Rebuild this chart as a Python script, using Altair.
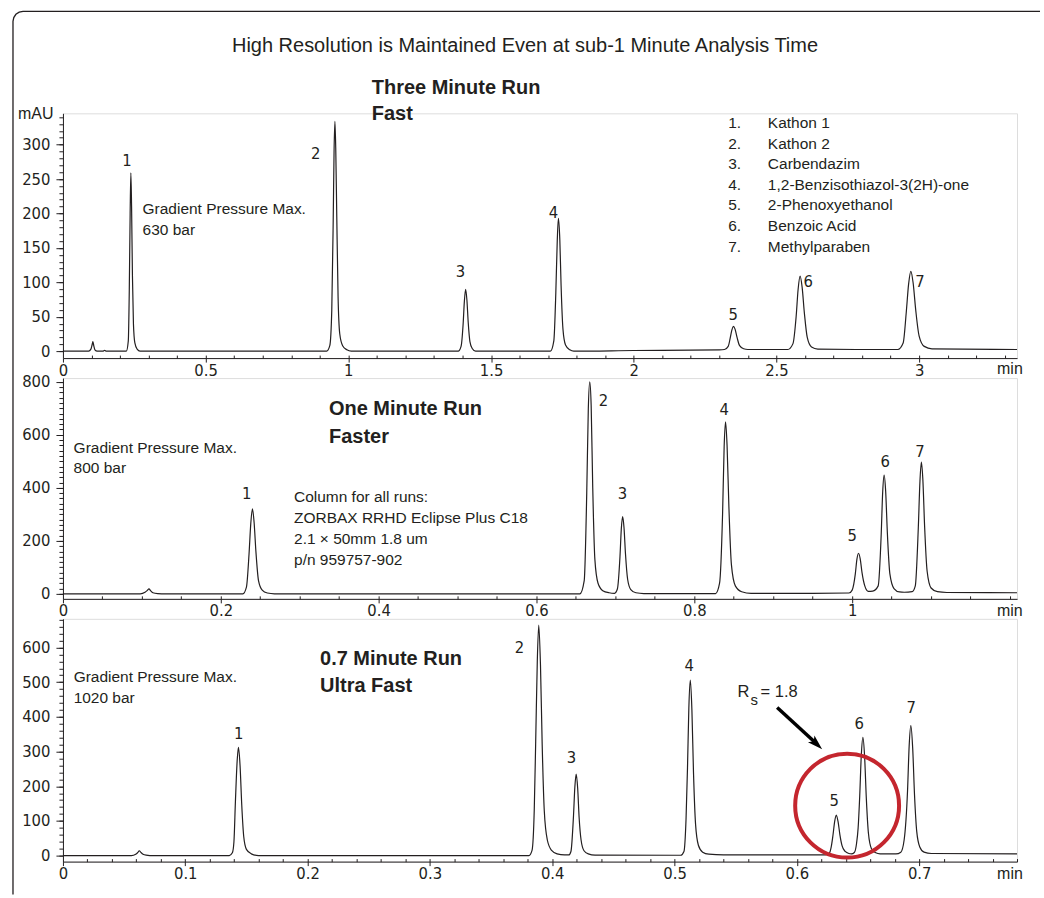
import altair as alt
import pandas as pd

# ---------------- data ----------------
# Three Minute Run trace: time (min) / absorbance (mAU)
run3_time = [0.0, 0.09, 0.098, 0.102, 0.105, 0.108, 0.112, 0.12, 0.14, 0.146, 0.152,
             0.222, 0.229, 0.2325, 0.2355, 0.238, 0.2405, 0.2435, 0.247, 0.252, 0.26, 0.27,
             0.924, 0.935, 0.942, 0.947, 0.950, 0.953, 0.956, 0.9595, 0.964, 0.970, 0.98, 0.995, 1.01,
             1.385, 1.395, 1.402, 1.4065, 1.411, 1.4155, 1.42, 1.426, 1.434, 1.446,
             1.708, 1.72, 1.727, 1.732, 1.736, 1.741, 1.7455, 1.752, 1.761, 1.776, 1.79,
             2.0, 2.30, 2.318, 2.331, 2.338, 2.344, 2.349, 2.355, 2.362, 2.371, 2.385, 2.40,
             2.54, 2.558, 2.569, 2.576, 2.583, 2.590, 2.598, 2.608, 2.623, 2.645,
             2.78, 2.925, 2.944, 2.955, 2.963, 2.971, 2.979, 2.988, 3.0, 3.018, 3.045, 3.343]
run3_mau = [0, 0, 3, 9, 14, 8, 2, 0, 0, 1.2, 0,
            0, 15, 90, 200, 259, 210, 110, 40, 12, 3, 0,
            0, 8, 60, 190, 290, 334, 292, 195, 80, 25, 8, 2, 0,
            0, 7, 38, 72, 90, 74, 42, 14, 4, 0,
            0, 15, 85, 160, 193, 162, 95, 32, 9, 2, 0,
            1, 2, 2.5, 7, 19, 31, 36, 32, 20, 8, 3.5, 2.5,
            2.5, 11, 50, 90, 109, 93, 55, 20, 6, 3,
            2.5, 2.5, 12, 57, 97, 116, 99, 60, 22, 7, 3.5, 2.5]

# One Minute Run trace
run1_time = [0.0, 0.098, 0.104, 0.107, 0.109, 0.111, 0.114, 0.120, 0.130,
             0.228, 0.2325, 0.2358, 0.238, 0.2401, 0.2422, 0.2445, 0.2478, 0.2525, 0.259, 0.268,
             0.655, 0.6605, 0.6637, 0.6657, 0.6675, 0.6693, 0.6713, 0.674, 0.678, 0.684, 0.692, 0.699,
             0.7025, 0.7058, 0.7075, 0.7092, 0.7109, 0.7128, 0.7155, 0.7195, 0.726, 0.736,
             0.827, 0.832, 0.8358, 0.8378, 0.8396, 0.8415, 0.8438, 0.847, 0.852, 0.860, 0.872,
             0.950, 0.996, 1.000, 1.004, 1.006, 1.008, 1.0102, 1.0125, 1.016, 1.0205,
             1.026, 1.033, 1.0368, 1.0387, 1.0405, 1.0424, 1.0446, 1.0478, 1.053, 1.060, 1.066,
             1.076, 1.080, 1.0838, 1.0859, 1.0877, 1.0896, 1.0918, 1.095, 1.100, 1.108, 1.120, 1.2089]
run1_mau = [0, 0, 6, 13, 19, 12, 4, 1, 0,
            0, 25, 150, 265, 321, 270, 160, 50, 14, 3, 0,
            0, 50, 380, 700, 800, 710, 400, 130, 40, 12, 4, 2,
            18, 140, 245, 291, 250, 150, 55, 16, 4, 1,
            1, 40, 300, 555, 649, 560, 330, 110, 30, 8, 2,
            2, 3, 14, 75, 130, 153, 132, 80, 30, 9,
            10, 30, 224, 385, 448, 390, 230, 75, 20, 7, 6,
            8, 30, 248, 425, 497, 430, 255, 85, 22, 8, 5, 4]

# 0.7 Minute Run trace
run07_time = [0.0, 0.056, 0.0595, 0.0612, 0.0624, 0.0638, 0.0655, 0.068, 0.074,
              0.136, 0.1385, 0.1398, 0.141, 0.1423, 0.1435, 0.1448, 0.1462, 0.1478, 0.150, 0.154, 0.160,
              0.381, 0.3835, 0.3853, 0.3865, 0.3878, 0.389, 0.3904, 0.3918, 0.3935, 0.396, 0.3995, 0.404, 0.410,
              0.4135, 0.4153, 0.4174, 0.4185, 0.4196, 0.4208, 0.422, 0.4236, 0.426, 0.4295, 0.435,
              0.505, 0.5077, 0.5094, 0.5106, 0.5117, 0.5129, 0.5142, 0.5155, 0.5172, 0.5195, 0.523, 0.528, 0.540, 0.600,
              0.6235, 0.6267, 0.6281, 0.6295, 0.6309, 0.6322, 0.6337, 0.6352, 0.637, 0.6395, 0.6425, 0.6446,
              0.647, 0.6488, 0.6501, 0.6514, 0.6527, 0.654, 0.6554, 0.6568, 0.6585, 0.661, 0.6645, 0.668,
              0.681, 0.685, 0.6877, 0.6905, 0.6918, 0.6932, 0.6947, 0.6962, 0.698, 0.7005, 0.704, 0.710, 0.780]
run07_mau = [0, 0, 4, 9, 14, 9, 4, 1.5, 0,
             0, 8, 40, 155, 265, 312, 260, 145, 55, 18, 5, 0,
             0, 15, 130, 330, 560, 665, 550, 320, 130, 45, 15, 5, 2,
             2, 12, 115, 197, 235, 195, 110, 45, 14, 5, 1.5,
             1, 12, 105, 253, 425, 506, 420, 240, 90, 30, 10, 4, 2, 2,
             2, 8, 25, 58, 98, 117, 98, 60, 28, 12, 6, 5,
             9, 35, 80, 172, 290, 341, 285, 165, 65, 20, 8, 5,
             5, 10, 45, 188, 315, 375, 310, 175, 70, 25, 10, 6, 5]

peak_numbers = ["1", "2", "3", "4", "5", "6", "7"]
run3_label_time = [0.224, 0.886, 1.393, 1.719, 2.349, 2.611, 3.003]
run3_label_mau = [276, 286, 115, 200, 52, 100, 100]
run1_label_time = [0.2329, 0.6848, 0.7089, 0.838, 1.0, 1.0418, 1.086]
run1_label_mau = [377, 727, 377, 693, 218, 497, 535]
run07_label_time = [0.1438, 0.3733, 0.4157, 0.5121, 0.6306, 0.651, 0.6934]
run07_label_mau = [351, 599, 282, 547, 156, 380, 426]

compound_numbers = ["1.", "2.", "3.", "4.", "5.", "6.", "7."]
compound_names = ["Kathon 1", "Kathon 2", "Carbendazim", "1,2-Benzisothiazol-3(2H)-one",
                  "2-Phenoxyethanol", "Benzoic Acid", "Methylparaben"]
compound_mau = [331, 301, 272, 242, 212, 182, 152]

run3_x_ticks = [0, 0.5, 1, 1.5, 2, 2.5, 3]
run1_x_ticks = [0, 0.2, 0.4, 0.6, 0.8, 1]
run07_x_ticks = [0, 0.1, 0.2, 0.3, 0.4, 0.5, 0.6, 0.7]
run3_y_ticks = [0, 50, 100, 150, 200, 250, 300]
run1_y_ticks = [0, 200, 400, 600, 800]
run07_y_ticks = [0, 100, 200, 300, 400, 500, 600]

run3_x_minor = [round(0.1 * i, 2) for i in range(1, 34)]
run1_x_minor = [round(0.05 * i, 3) for i in range(1, 25)]
run07_x_minor = [round(0.02 * i, 3) for i in range(1, 40)]
run3_y_minor = list(range(0, 341, 10))
run1_y_minor = list(range(0, 811, 20))
run07_y_minor = list(range(0, 681, 20))

# ---------------- styling ----------------
FONT = "Liberation Sans, Arial, sans-serif"
NARROW = "Liberation Sans Narrow, DejaVu Sans Condensed, sans-serif"
INK = "#231f20"
RED = "#c4262e"
W = 955


def scales(xmax, ydom):
    return (alt.Scale(domain=[0, xmax], nice=False, zero=False),
            alt.Scale(domain=ydom, nice=False, zero=False))


def texts(df, xs, ys, **kw):
    return alt.Chart(df).mark_text(color=INK, **kw).encode(
        x=alt.X("t:Q", scale=xs, axis=None),
        y=alt.Y("v:Q", scale=ys, axis=None),
        text="s:N",
    )


def panel(time, mau, xmax, ydom, height, xmaj, xmin, ymaj, ymin,
          lab_t, lab_v, notes, bold, extra=()):
    xs, ys = scales(xmax, ydom)
    trace = pd.DataFrame({"t": time, "v": mau})
    line = alt.Chart(trace).mark_line(color=INK, strokeWidth=1.2, interpolate="monotone").encode(
        x=alt.X("t:Q", scale=xs, axis=alt.Axis(
            orient="bottom", values=xmaj, format="~g", title=None, grid=False,
            tickSize=4, labelPadding=0, labelFlush=False, labelOverlap=False,
            labelFont=NARROW, labelFontSize=16.5, labelColor=INK,
            domainColor=INK, tickColor=INK)),
        y=alt.Y("v:Q", scale=ys, axis=alt.Axis(
            orient="left", values=ymaj, title=None, grid=False,
            tickSize=7, labelPadding=6, labelOverlap=False,
            labelFont=NARROW, labelFontSize=16.5, labelColor=INK,
            domainColor=INK, tickColor=INK)),
    )
    minor = alt.Chart(trace).mark_line(opacity=0).encode(
        x=alt.X("t:Q", scale=xs, axis=alt.Axis(
            orient="bottom", values=xmin, labels=False, domain=False, title=None,
            grid=False, tickSize=3, offset=-3, tickColor=INK)),
        y=alt.Y("v:Q", scale=ys, axis=alt.Axis(
            orient="left", values=ymin, labels=False, domain=False, title=None,
            grid=False, tickSize=4, tickColor=INK)),
    )
    peaks = texts(pd.DataFrame({"t": lab_t, "v": lab_v, "s": peak_numbers}), xs, ys,
                  font=NARROW, fontSize=16.5)
    note_layer = texts(pd.DataFrame(notes, columns=["s", "t", "v"]), xs, ys,
                       font=FONT, fontSize=15.5, align="left")
    bold_layer = texts(pd.DataFrame(bold, columns=["s", "t", "v"]), xs, ys,
                       font=FONT, fontSize=20, fontWeight="bold", align="left")
    layers = [line, minor, peaks, note_layer, bold_layer] + [f(xs, ys) for f in extra]
    return alt.layer(*layers).resolve_axis(x="independent", y="independent").properties(
        width=W, height=height)


# extras for the top panel: canvas extent, frame, title, legend list
def canvas_rect(xs, ys):
    return alt.Chart(pd.DataFrame({"k": [0]})).mark_rect(opacity=0).encode(
        x=alt.value(-62), x2=alt.value(1040 - 62), y=alt.value(-112), y2=alt.value(894 - 112))


frame_px = [-50, -50, -49.2, -47.1, -43.8, -40, 978]
frame_py = [782, -92, -95.8, -99.1, -101.2, -102, -102]


def frame(xs, ys):
    df = pd.DataFrame({"px": frame_px, "py": frame_py, "i": list(range(len(frame_px)))})
    return alt.Chart(df).mark_line(color=INK, strokeWidth=1.3).encode(
        x=alt.X("px:Q", scale=None, axis=None), y=alt.Y("py:Q", scale=None, axis=None),
        order="i:Q")


def title_text(xs, ys):
    return texts(pd.DataFrame({"s": ["High Resolution is Maintained Even at sub-1 Minute Analysis Time"],
                               "t": [1.619], "v": [443]}), xs, ys, font=FONT, fontSize=20)


def legend_nums(xs, ys):
    return texts(pd.DataFrame({"s": compound_numbers, "t": [2.331] * 7, "v": compound_mau}),
                 xs, ys, font=FONT, fontSize=15.5, align="left")


def legend_names(xs, ys):
    return texts(pd.DataFrame({"s": compound_names, "t": [2.470] * 7, "v": compound_mau}),
                 xs, ys, font=FONT, fontSize=15.5, align="left")


def rs_annotation(xs, ys):
    big = texts(pd.DataFrame({"s": ["R", "= 1.8"], "t": [0.5515, 0.5703], "v": [472, 472]}),
                xs, ys, font=FONT, fontSize=16.5, align="left")
    sub = texts(pd.DataFrame({"s": ["s"], "t": [0.5621], "v": [449]}),
                xs, ys, font=FONT, fontSize=15, align="left")
    shaft = alt.Chart(pd.DataFrame({"t": [0.5839], "v": [427], "t2": [0.6159], "v2": [323]})).mark_rule(
        color="black", strokeWidth=3.5).encode(
        x=alt.X("t:Q", scale=xs, axis=None), y=alt.Y("v:Q", scale=ys, axis=None),
        x2="t2:Q", y2="v2:Q")
    head = alt.Chart(pd.DataFrame({"t": [0.6207], "v": [307]})).mark_point(
        shape="M0,0 L0.6,1.9 L0,1.45 L-0.6,1.9 Z", filled=True, size=250, angle=133,
        color="black", opacity=1).encode(
        x=alt.X("t:Q", scale=xs, axis=None), y=alt.Y("v:Q", scale=ys, axis=None))
    ring = alt.Chart(pd.DataFrame({"t": [0.6411], "v": [144]})).mark_point(
        shape="circle", filled=False, size=10816, strokeWidth=4, color=RED, opacity=1).encode(
        x=alt.X("t:Q", scale=xs, axis=None), y=alt.Y("v:Q", scale=ys, axis=None))
    return alt.layer(big, sub, shaft, head, ring)


def min_label(t, v):
    def f(xs, ys):
        return texts(pd.DataFrame({"s": ["min"], "t": [t], "v": [v]}), xs, ys,
                     font=FONT, fontSize=16, align="left")
    return f


def mau_label(xs, ys):
    return texts(pd.DataFrame({"s": ["mAU"], "t": [-0.1575], "v": [344]}), xs, ys,
                 font=FONT, fontSize=16, align="left")


p3 = panel(run3_time, run3_mau, 3.343, [-10, 345.5], 245,
           run3_x_ticks, run3_x_minor, run3_y_ticks, run3_y_minor,
           run3_label_time, run3_label_mau,
           [["Gradient Pressure Max.", 0.279, 207], ["630 bar", 0.279, 176.6]],
           [["Three Minute Run", 1.082, 381.7], ["Fast", 1.082, 344]],
           extra=[canvas_rect, frame, title_text, legend_nums, legend_names,
                  mau_label, min_label(3.273, -26)])

p1 = panel(run1_time, run1_mau, 1.2089, [-19, 814], 221,
           run1_x_ticks, run1_x_minor, run1_y_ticks, run1_y_minor,
           run1_label_time, run1_label_mau,
           [["Gradient Pressure Max.", 0.0135, 549], ["800 bar", 0.0135, 473.6],
            ["Column for all runs:", 0.2928, 365.5], ["ZORBAX RRHD Eclipse Plus C18", 0.2928, 287.5],
            ["2.1 × 50mm 1.8 um", 0.2928, 206], ["p/n 959757-902", 0.2928, 127]],
           [["One Minute Run", 0.3371, 698], ["Faster", 0.3371, 591.5]],
           extra=[min_label(1.1835, -64)])

p07 = panel(run07_time, run07_mau, 0.78, [-17.3, 682.7], 243,
            run07_x_ticks, run07_x_minor, run07_y_ticks, run07_y_minor,
            run07_label_time, run07_label_mau,
            [["Gradient Pressure Max.", 0.00874, 515.5], ["1020 bar", 0.00874, 454]],
            [["0.7 Minute Run", 0.2102, 566.5], ["Ultra Fast", 0.2102, 489.6]],
            extra=[rs_annotation, min_label(0.7637, -52)])

chart = alt.vconcat(p3, p1, p07, spacing=20, bounds="flush").properties(
    padding=0, autosize=alt.AutoSizeParams(type="pad")
).configure_view(stroke="transparent").configure(background="white")

chart.save("out.html", embed_options={"renderer": "svg", "actions": False})
